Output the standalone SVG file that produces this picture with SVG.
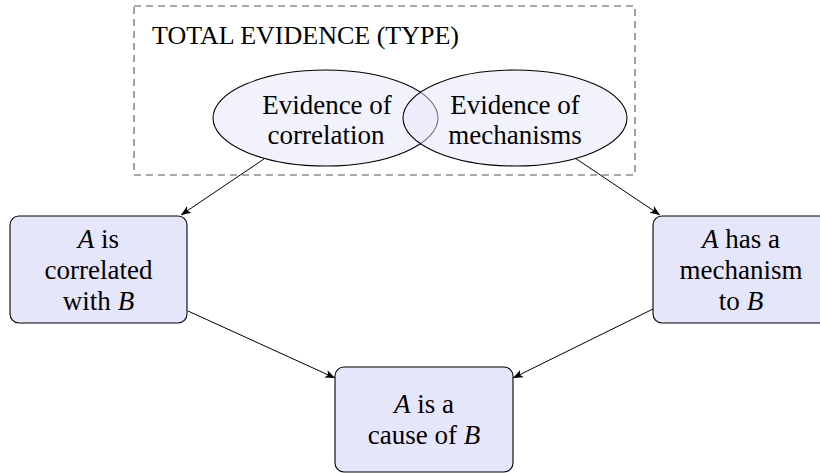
<svg xmlns="http://www.w3.org/2000/svg" width="820" height="473" viewBox="0 0 820 473">
<defs>
<style>
text{font-family:'Liberation Serif',serif !important;font-size:27px}
.box{fill:#e6e6fb;stroke:#000;stroke-width:1.1}
.ell{fill:#e6e6fb;fill-opacity:0.5;stroke:#000;stroke-width:1.1}
.edge{stroke:#000;stroke-width:1;fill:none;marker-end:url(#arr)}
</style>
<marker id="arr" viewBox="0 0 10 10" refX="10" refY="5" markerWidth="10" markerHeight="10" markerUnits="userSpaceOnUse" orient="auto">
<path d="M0,1 L10,5 L0,9 L2.5,5 Z" fill="#000"/>
</marker>
</defs>
<g id="total-evidence">
<rect x="134" y="6" width="501" height="169" fill="none" stroke="#555" stroke-width="1.1" stroke-dasharray="7,5"/>
<text x="152" y="44" font-family="'Liberation Serif'" style="font-family:'Liberation Serif' !important;font-size:26px">TOTAL EVIDENCE (TYPE)</text>
</g>
<g id="evidence-correlation">
<ellipse class="ell" cx="325.5" cy="118" rx="112.5" ry="48"/>
<text x="327" y="114" text-anchor="middle" font-family="'Liberation Serif'" style="font-family:'Liberation Serif' !important">Evidence of</text>
<text x="326" y="144" text-anchor="middle" font-family="'Liberation Serif'" style="font-family:'Liberation Serif' !important">correlation</text>
</g>
<g id="evidence-mechanisms">
<ellipse class="ell" cx="515" cy="118" rx="112" ry="48"/>
<text x="515" y="114" text-anchor="middle" font-family="'Liberation Serif'" style="font-family:'Liberation Serif' !important">Evidence of</text>
<text x="515" y="144" text-anchor="middle" font-family="'Liberation Serif'" style="font-family:'Liberation Serif' !important">mechanisms</text>
</g>
<g id="correlated">
<rect class="box" x="10" y="216" width="177" height="107" rx="9"/>
<text x="98.5" y="248" text-anchor="middle" font-family="'Liberation Serif'" style="font-family:'Liberation Serif' !important"><tspan font-style="italic">A</tspan> is</text>
<text x="98.5" y="279" text-anchor="middle" font-family="'Liberation Serif'" style="font-family:'Liberation Serif' !important">correlated</text>
<text x="98.5" y="310" text-anchor="middle" font-family="'Liberation Serif'" style="font-family:'Liberation Serif' !important">with <tspan font-style="italic">B</tspan></text>
</g>
<g id="mechanism">
<rect class="box" x="653" y="216" width="177" height="107" rx="9"/>
<text x="741" y="248" text-anchor="middle" font-family="'Liberation Serif'" style="font-family:'Liberation Serif' !important"><tspan font-style="italic">A</tspan> has a</text>
<text x="741" y="279" text-anchor="middle" font-family="'Liberation Serif'" style="font-family:'Liberation Serif' !important">mechanism</text>
<text x="741" y="310" text-anchor="middle" font-family="'Liberation Serif'" style="font-family:'Liberation Serif' !important">to <tspan font-style="italic">B</tspan></text>
</g>
<g id="cause">
<rect class="box" x="335" y="367" width="178" height="105" rx="9"/>
<text x="424" y="413" text-anchor="middle" font-family="'Liberation Serif'" style="font-family:'Liberation Serif' !important"><tspan font-style="italic">A</tspan> is a</text>
<text x="424" y="444" text-anchor="middle" font-family="'Liberation Serif'" style="font-family:'Liberation Serif' !important">cause of <tspan font-style="italic">B</tspan></text>
</g>
<g id="connectors">
<line class="edge" x1="264" y1="159" x2="181" y2="215"/>
<line class="edge" x1="575" y1="158" x2="660" y2="215"/>
<line class="edge" x1="188" y1="311" x2="335" y2="378"/>
<line class="edge" x1="653" y1="309" x2="513" y2="378"/>
</g>
</svg>
